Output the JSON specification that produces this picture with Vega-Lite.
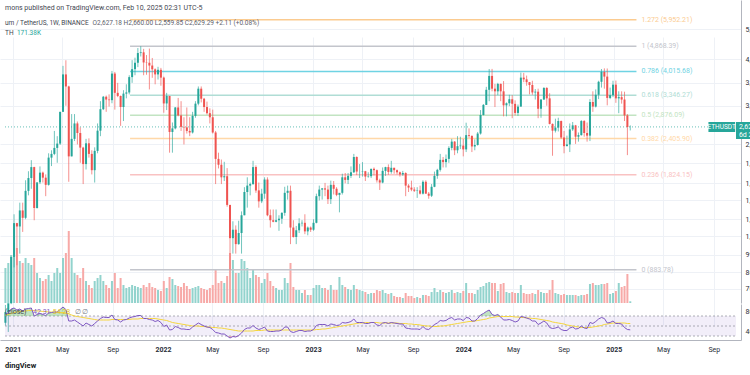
{
  "$schema": "https://vega.github.io/schema/vega-lite/v6.json",
  "width": 741,
  "height": 340,
  "autosize": {"type": "none"},
  "padding": {"left": 0, "top": 0, "right": 9, "bottom": 35},
  "background": "white",
  "config": {"view": {"stroke": null}, "font": "Roboto"},
  "datasets": {
    "fib": [
      {"lv": "1.272", "p": 5952.21, "s": "1.272 (5,952.21)"},
      {"lv": "1", "p": 4868.39, "s": "1 (4,868.39)"},
      {"lv": "0.786", "p": 4015.68, "s": "0.786 (4,015.68)"},
      {"lv": "0.618", "p": 3346.27, "s": "0.618 (3,346.27)"},
      {"lv": "0.5", "p": 2876.09, "s": "0.5 (2,876.09)"},
      {"lv": "0.382", "p": 2405.90, "s": "0.382 (2,405.90)"},
      {"lv": "0.236", "p": 1824.15, "s": "0.236 (1,824.15)"},
      {"lv": "0", "p": 883.78, "s": "0 (883.78)"}
    ]
  },
  "data": {"values": [
    {"t":"2020-12-14","o":590,"h":676,"l":577,"c":640,"v":3500,"r":74,"m":72},
    {"t":"2020-12-21","o":640,"h":665,"l":550,"c":685,"v":4000,"r":76,"m":73},
    {"t":"2020-12-28","o":685,"h":760,"l":680,"c":975,"v":4800,"r":84,"m":75},
    {"t":"2021-01-04","o":975,"h":1350,"l":900,"c":1262,"v":6000,"r":86,"m":77},
    {"t":"2021-01-11","o":1262,"h":1265,"l":915,"c":1230,"v":5500,"r":82,"m":78},
    {"t":"2021-01-18","o":1230,"h":1475,"l":1000,"c":1390,"v":4200,"r":84,"m":79},
    {"t":"2021-01-25","o":1390,"h":1475,"l":1180,"c":1314,"v":4000,"r":80,"m":80},
    {"t":"2021-02-01","o":1314,"h":1750,"l":1300,"c":1614,"v":4500,"r":84,"m":80},
    {"t":"2021-02-08","o":1614,"h":1875,"l":1560,"c":1780,"v":4000,"r":85,"m":81},
    {"t":"2021-02-15","o":1780,"h":2040,"l":1640,"c":1935,"v":3800,"r":86,"m":81},
    {"t":"2021-02-22","o":1935,"h":1940,"l":1290,"c":1416,"v":4500,"r":70,"m":81},
    {"t":"2021-03-01","o":1416,"h":1680,"l":1410,"c":1723,"v":3000,"r":73,"m":80},
    {"t":"2021-03-08","o":1723,"h":1945,"l":1700,"c":1855,"v":2500,"r":75,"m":80},
    {"t":"2021-03-15","o":1855,"h":1870,"l":1720,"c":1785,"v":2200,"r":73,"m":79},
    {"t":"2021-03-22","o":1785,"h":1830,"l":1550,"c":1690,"v":2400,"r":71,"m":79},
    {"t":"2021-03-29","o":1690,"h":2150,"l":1680,"c":2080,"v":2800,"r":76,"m":78},
    {"t":"2021-04-05","o":2080,"h":2200,"l":1950,"c":2140,"v":2200,"r":77,"m":78},
    {"t":"2021-04-12","o":2140,"h":2550,"l":2120,"c":2240,"v":3000,"r":78,"m":78},
    {"t":"2021-04-19","o":2240,"h":2450,"l":2000,"c":2315,"v":3500,"r":78,"m":77},
    {"t":"2021-04-26","o":2315,"h":2950,"l":2290,"c":2950,"v":3000,"r":83,"m":77},
    {"t":"2021-05-03","o":2950,"h":4190,"l":2950,"c":3925,"v":4500,"r":88,"m":77},
    {"t":"2021-05-10","o":3925,"h":4372,"l":3090,"c":3580,"v":5000,"r":83,"m":76},
    {"t":"2021-05-17","o":3580,"h":3600,"l":1730,"c":2100,"v":7200,"r":60,"m":74},
    {"t":"2021-05-24","o":2100,"h":2900,"l":2100,"c":2400,"v":4500,"r":60,"m":72},
    {"t":"2021-05-31","o":2400,"h":2900,"l":2360,"c":2700,"v":3000,"r":62,"m":70},
    {"t":"2021-06-07","o":2700,"h":2740,"l":2300,"c":2510,"v":2800,"r":58,"m":69},
    {"t":"2021-06-14","o":2510,"h":2620,"l":2000,"c":2245,"v":2500,"r":54,"m":68},
    {"t":"2021-06-21","o":2245,"h":2260,"l":1700,"c":1980,"v":3500,"r":50,"m":67},
    {"t":"2021-06-28","o":1980,"h":2400,"l":1900,"c":2320,"v":2200,"r":56,"m":66},
    {"t":"2021-07-05","o":2320,"h":2410,"l":2080,"c":2140,"v":1800,"r":53,"m":65},
    {"t":"2021-07-12","o":2140,"h":2200,"l":1830,"c":1890,"v":1500,"r":50,"m":64},
    {"t":"2021-07-19","o":1890,"h":2250,"l":1720,"c":2190,"v":2200,"r":55,"m":63},
    {"t":"2021-07-26","o":2190,"h":2700,"l":2150,"c":2555,"v":2500,"r":60,"m":62},
    {"t":"2021-08-02","o":2555,"h":3200,"l":2450,"c":3010,"v":2800,"r":65,"m":62},
    {"t":"2021-08-09","o":3010,"h":3330,"l":2990,"c":3310,"v":2200,"r":68,"m":62},
    {"t":"2021-08-16","o":3310,"h":3340,"l":2950,"c":3240,"v":1800,"r":67,"m":62},
    {"t":"2021-08-23","o":3240,"h":3370,"l":3070,"c":3225,"v":1500,"r":67,"m":62},
    {"t":"2021-08-30","o":3225,"h":4030,"l":3150,"c":3950,"v":2200,"r":72,"m":63},
    {"t":"2021-09-06","o":3950,"h":4000,"l":3000,"c":3410,"v":3000,"r":63,"m":63},
    {"t":"2021-09-13","o":3410,"h":3680,"l":3300,"c":3330,"v":1500,"r":62,"m":63},
    {"t":"2021-09-20","o":3330,"h":3340,"l":2650,"c":3060,"v":2500,"r":58,"m":63},
    {"t":"2021-09-27","o":3060,"h":3480,"l":2750,"c":3390,"v":1800,"r":62,"m":63},
    {"t":"2021-10-04","o":3390,"h":3640,"l":3270,"c":3420,"v":1500,"r":63,"m":63},
    {"t":"2021-10-11","o":3420,"h":3900,"l":3370,"c":3845,"v":1600,"r":66,"m":63},
    {"t":"2021-10-18","o":3845,"h":4375,"l":3680,"c":4085,"v":1800,"r":68,"m":64},
    {"t":"2021-10-25","o":4085,"h":4460,"l":3900,"c":4290,"v":1700,"r":69,"m":64},
    {"t":"2021-11-01","o":4290,"h":4800,"l":4150,"c":4620,"v":1600,"r":71,"m":64},
    {"t":"2021-11-08","o":4620,"h":4868,"l":4500,"c":4645,"v":1500,"r":71,"m":65},
    {"t":"2021-11-15","o":4645,"h":4770,"l":3900,"c":4300,"v":1800,"r":65,"m":65},
    {"t":"2021-11-22","o":4300,"h":4550,"l":3915,"c":4290,"v":1600,"r":65,"m":65},
    {"t":"2021-11-29","o":4290,"h":4780,"l":3500,"c":4200,"v":2000,"r":63,"m":65},
    {"t":"2021-12-06","o":4200,"h":4450,"l":3825,"c":4080,"v":1600,"r":62,"m":65},
    {"t":"2021-12-13","o":4080,"h":4110,"l":3640,"c":3925,"v":1500,"r":59,"m":65},
    {"t":"2021-12-20","o":3925,"h":4160,"l":3775,"c":4065,"v":1300,"r":61,"m":64},
    {"t":"2021-12-27","o":4065,"h":4125,"l":3600,"c":3830,"v":1200,"r":57,"m":63},
    {"t":"2022-01-03","o":3830,"h":3860,"l":2930,"c":3145,"v":2200,"r":49,"m":62},
    {"t":"2022-01-10","o":3145,"h":3410,"l":2990,"c":3330,"v":1500,"r":52,"m":61},
    {"t":"2022-01-17","o":3330,"h":3330,"l":2160,"c":2530,"v":2600,"r":42,"m":59},
    {"t":"2022-01-24","o":2530,"h":2720,"l":2160,"c":2600,"v":2400,"r":43,"m":57},
    {"t":"2022-01-31","o":2600,"h":3060,"l":2580,"c":3050,"v":1800,"r":49,"m":56},
    {"t":"2022-02-07","o":3050,"h":3280,"l":2850,"c":2870,"v":1700,"r":47,"m":55},
    {"t":"2022-02-14","o":2870,"h":3200,"l":2550,"c":2630,"v":1600,"r":44,"m":54},
    {"t":"2022-02-21","o":2630,"h":2830,"l":2300,"c":2620,"v":2000,"r":44,"m":53},
    {"t":"2022-02-28","o":2620,"h":3050,"l":2500,"c":2550,"v":1700,"r":43,"m":52},
    {"t":"2022-03-07","o":2550,"h":2830,"l":2450,"c":2520,"v":1400,"r":43,"m":51},
    {"t":"2022-03-14","o":2520,"h":2950,"l":2500,"c":2860,"v":1500,"r":48,"m":50},
    {"t":"2022-03-21","o":2860,"h":3200,"l":2820,"c":3140,"v":1600,"r":52,"m":50},
    {"t":"2022-03-28","o":3140,"h":3580,"l":3100,"c":3520,"v":1700,"r":56,"m":50},
    {"t":"2022-04-04","o":3520,"h":3580,"l":3170,"c":3260,"v":1500,"r":53,"m":49},
    {"t":"2022-04-11","o":3260,"h":3280,"l":2950,"c":3060,"v":1400,"r":50,"m":49},
    {"t":"2022-04-18","o":3060,"h":3190,"l":2890,"c":2920,"v":1300,"r":48,"m":48},
    {"t":"2022-04-25","o":2920,"h":3030,"l":2700,"c":2830,"v":1500,"r":47,"m":48},
    {"t":"2022-05-02","o":2830,"h":3000,"l":2500,"c":2520,"v":1800,"r":43,"m":47},
    {"t":"2022-05-09","o":2520,"h":2550,"l":1700,"c":2060,"v":3400,"r":37,"m":47},
    {"t":"2022-05-16","o":2060,"h":2160,"l":1915,"c":1970,"v":2000,"r":36,"m":46},
    {"t":"2022-05-23","o":1970,"h":2050,"l":1700,"c":1790,"v":2200,"r":34,"m":46},
    {"t":"2022-05-30","o":1790,"h":2015,"l":1740,"c":1805,"v":2000,"r":34,"m":45},
    {"t":"2022-06-06","o":1805,"h":1920,"l":1430,"c":1450,"v":2700,"r":30,"m":44},
    {"t":"2022-06-13","o":1450,"h":1450,"l":880,"c":1125,"v":5000,"r":26,"m":43},
    {"t":"2022-06-20","o":1125,"h":1280,"l":1000,"c":1200,"v":4300,"r":29,"m":42},
    {"t":"2022-06-27","o":1200,"h":1240,"l":1000,"c":1075,"v":3000,"r":28,"m":41},
    {"t":"2022-07-04","o":1075,"h":1285,"l":1070,"c":1170,"v":3000,"r":31,"m":40},
    {"t":"2022-07-11","o":1170,"h":1380,"l":1000,"c":1340,"v":4400,"r":36,"m":40},
    {"t":"2022-07-18","o":1340,"h":1660,"l":1340,"c":1600,"v":4200,"r":43,"m":40},
    {"t":"2022-07-25","o":1600,"h":1790,"l":1420,"c":1680,"v":3500,"r":46,"m":40},
    {"t":"2022-08-01","o":1680,"h":1720,"l":1560,"c":1700,"v":2500,"r":46,"m":40},
    {"t":"2022-08-08","o":1700,"h":2030,"l":1690,"c":1935,"v":3300,"r":51,"m":40},
    {"t":"2022-08-15","o":1935,"h":1960,"l":1590,"c":1620,"v":2800,"r":46,"m":41},
    {"t":"2022-08-22","o":1620,"h":1720,"l":1420,"c":1490,"v":2600,"r":43,"m":41},
    {"t":"2022-08-29","o":1490,"h":1640,"l":1470,"c":1580,"v":2000,"r":45,"m":41},
    {"t":"2022-09-05","o":1580,"h":1790,"l":1520,"c":1760,"v":2400,"r":48,"m":42},
    {"t":"2022-09-12","o":1760,"h":1790,"l":1330,"c":1340,"v":3000,"r":40,"m":42},
    {"t":"2022-09-19","o":1340,"h":1400,"l":1220,"c":1290,"v":2200,"r":39,"m":42},
    {"t":"2022-09-26","o":1290,"h":1400,"l":1270,"c":1275,"v":1700,"r":39,"m":42},
    {"t":"2022-10-03","o":1275,"h":1400,"l":1270,"c":1290,"v":1500,"r":40,"m":42},
    {"t":"2022-10-10","o":1290,"h":1340,"l":1190,"c":1305,"v":1300,"r":40,"m":42},
    {"t":"2022-10-17","o":1305,"h":1370,"l":1255,"c":1365,"v":1300,"r":42,"m":42},
    {"t":"2022-10-24","o":1365,"h":1665,"l":1335,"c":1590,"v":2500,"r":48,"m":42},
    {"t":"2022-10-31","o":1590,"h":1680,"l":1510,"c":1615,"v":2000,"r":48,"m":42},
    {"t":"2022-11-07","o":1615,"h":1680,"l":1075,"c":1220,"v":4000,"r":39,"m":42},
    {"t":"2022-11-14","o":1220,"h":1290,"l":1130,"c":1135,"v":1600,"r":37,"m":42},
    {"t":"2022-11-21","o":1135,"h":1235,"l":1075,"c":1195,"v":1300,"r":39,"m":42},
    {"t":"2022-11-28","o":1195,"h":1310,"l":1170,"c":1260,"v":1300,"r":41,"m":42},
    {"t":"2022-12-05","o":1260,"h":1290,"l":1230,"c":1265,"v":1000,"r":41,"m":42},
    {"t":"2022-12-12","o":1265,"h":1350,"l":1160,"c":1185,"v":1300,"r":39,"m":42},
    {"t":"2022-12-19","o":1185,"h":1230,"l":1150,"c":1220,"v":800,"r":40,"m":42},
    {"t":"2022-12-26","o":1220,"h":1230,"l":1180,"c":1200,"v":800,"r":40,"m":42},
    {"t":"2023-01-02","o":1200,"h":1300,"l":1190,"c":1265,"v":1500,"r":43,"m":42},
    {"t":"2023-01-09","o":1265,"h":1580,"l":1260,"c":1550,"v":1800,"r":51,"m":43},
    {"t":"2023-01-16","o":1550,"h":1680,"l":1500,"c":1630,"v":1800,"r":53,"m":43},
    {"t":"2023-01-23","o":1630,"h":1650,"l":1510,"c":1645,"v":1500,"r":53,"m":44},
    {"t":"2023-01-30","o":1645,"h":1715,"l":1550,"c":1630,"v":1500,"r":53,"m":44},
    {"t":"2023-02-06","o":1630,"h":1680,"l":1460,"c":1515,"v":1300,"r":50,"m":45},
    {"t":"2023-02-13","o":1515,"h":1745,"l":1460,"c":1690,"v":1800,"r":54,"m":46},
    {"t":"2023-02-20","o":1690,"h":1740,"l":1570,"c":1640,"v":1300,"r":53,"m":47},
    {"t":"2023-02-27","o":1640,"h":1660,"l":1550,"c":1565,"v":1300,"r":51,"m":48},
    {"t":"2023-03-06","o":1565,"h":1570,"l":1370,"c":1590,"v":2600,"r":52,"m":49},
    {"t":"2023-03-13","o":1590,"h":1840,"l":1570,"c":1790,"v":1800,"r":57,"m":50},
    {"t":"2023-03-20","o":1790,"h":1850,"l":1710,"c":1755,"v":1600,"r":56,"m":51},
    {"t":"2023-03-27","o":1755,"h":1850,"l":1700,"c":1810,"v":1400,"r":57,"m":52},
    {"t":"2023-04-03","o":1810,"h":1945,"l":1780,"c":1860,"v":1300,"r":59,"m":53},
    {"t":"2023-04-10","o":1860,"h":2140,"l":1850,"c":2090,"v":1800,"r":64,"m":54},
    {"t":"2023-04-17","o":2090,"h":2100,"l":1820,"c":1870,"v":1400,"r":57,"m":55},
    {"t":"2023-04-24","o":1870,"h":1980,"l":1780,"c":1870,"v":1300,"r":57,"m":56},
    {"t":"2023-05-01","o":1870,"h":2010,"l":1800,"c":1875,"v":1200,"r":57,"m":56},
    {"t":"2023-05-08","o":1875,"h":1880,"l":1740,"c":1800,"v":1100,"r":55,"m":57},
    {"t":"2023-05-15","o":1800,"h":1860,"l":1785,"c":1805,"v":900,"r":55,"m":57},
    {"t":"2023-05-22","o":1805,"h":1910,"l":1780,"c":1910,"v":1000,"r":57,"m":57},
    {"t":"2023-05-29","o":1910,"h":1930,"l":1815,"c":1890,"v":1000,"r":57,"m":57},
    {"t":"2023-06-05","o":1890,"h":1900,"l":1720,"c":1750,"v":1300,"r":52,"m":57},
    {"t":"2023-06-12","o":1750,"h":1770,"l":1625,"c":1720,"v":1200,"r":51,"m":56},
    {"t":"2023-06-19","o":1720,"h":1930,"l":1710,"c":1880,"v":1300,"r":56,"m":56},
    {"t":"2023-06-26","o":1880,"h":1940,"l":1810,"c":1935,"v":1000,"r":57,"m":56},
    {"t":"2023-07-03","o":1935,"h":1975,"l":1825,"c":1865,"v":900,"r":55,"m":56},
    {"t":"2023-07-10","o":1865,"h":2030,"l":1840,"c":1925,"v":1000,"r":57,"m":56},
    {"t":"2023-07-17","o":1925,"h":1925,"l":1840,"c":1890,"v":700,"r":56,"m":56},
    {"t":"2023-07-24","o":1890,"h":1900,"l":1830,"c":1860,"v":600,"r":55,"m":56},
    {"t":"2023-07-31","o":1860,"h":1870,"l":1800,"c":1830,"v":600,"r":54,"m":55},
    {"t":"2023-08-07","o":1830,"h":1880,"l":1810,"c":1850,"v":500,"r":54,"m":55},
    {"t":"2023-08-14","o":1850,"h":1860,"l":1550,"c":1680,"v":1000,"r":46,"m":55},
    {"t":"2023-08-21","o":1680,"h":1700,"l":1600,"c":1655,"v":700,"r":45,"m":54},
    {"t":"2023-08-28","o":1655,"h":1745,"l":1610,"c":1630,"v":700,"r":44,"m":54},
    {"t":"2023-09-04","o":1630,"h":1660,"l":1600,"c":1615,"v":500,"r":44,"m":53},
    {"t":"2023-09-11","o":1615,"h":1660,"l":1530,"c":1620,"v":600,"r":44,"m":53},
    {"t":"2023-09-18","o":1620,"h":1680,"l":1570,"c":1580,"v":500,"r":43,"m":52},
    {"t":"2023-09-25","o":1580,"h":1750,"l":1570,"c":1730,"v":800,"r":49,"m":51},
    {"t":"2023-10-02","o":1730,"h":1750,"l":1580,"c":1580,"v":800,"r":44,"m":50},
    {"t":"2023-10-09","o":1580,"h":1600,"l":1520,"c":1555,"v":700,"r":43,"m":50},
    {"t":"2023-10-16","o":1555,"h":1700,"l":1540,"c":1665,"v":1100,"r":48,"m":49},
    {"t":"2023-10-23","o":1665,"h":1870,"l":1660,"c":1810,"v":1500,"r":53,"m":49},
    {"t":"2023-10-30","o":1810,"h":1910,"l":1770,"c":1895,"v":1100,"r":56,"m":49},
    {"t":"2023-11-06","o":1895,"h":2140,"l":1870,"c":2045,"v":1300,"r":61,"m":50},
    {"t":"2023-11-13","o":2045,"h":2090,"l":1930,"c":2010,"v":1100,"r":60,"m":50},
    {"t":"2023-11-20","o":2010,"h":2130,"l":1930,"c":2060,"v":1000,"r":61,"m":51},
    {"t":"2023-11-27","o":2060,"h":2270,"l":2000,"c":2240,"v":1100,"r":65,"m":52},
    {"t":"2023-12-04","o":2240,"h":2400,"l":2200,"c":2350,"v":1300,"r":67,"m":53},
    {"t":"2023-12-11","o":2350,"h":2360,"l":2120,"c":2200,"v":1000,"r":62,"m":54},
    {"t":"2023-12-18","o":2200,"h":2450,"l":2150,"c":2270,"v":1100,"r":64,"m":55},
    {"t":"2023-12-25","o":2270,"h":2440,"l":2220,"c":2280,"v":1000,"r":64,"m":56},
    {"t":"2024-01-01","o":2280,"h":2400,"l":2100,"c":2215,"v":1200,"r":61,"m":57},
    {"t":"2024-01-08","o":2215,"h":2715,"l":2170,"c":2470,"v":2000,"r":67,"m":58},
    {"t":"2024-01-15","o":2470,"h":2600,"l":2420,"c":2455,"v":1000,"r":66,"m":59},
    {"t":"2024-01-22","o":2455,"h":2465,"l":2170,"c":2265,"v":1000,"r":60,"m":59},
    {"t":"2024-01-29","o":2265,"h":2390,"l":2200,"c":2290,"v":900,"r":60,"m":60},
    {"t":"2024-02-05","o":2290,"h":2530,"l":2280,"c":2500,"v":1300,"r":65,"m":61},
    {"t":"2024-02-12","o":2500,"h":2990,"l":2480,"c":2880,"v":1600,"r":72,"m":62},
    {"t":"2024-02-19","o":2880,"h":3130,"l":2870,"c":3110,"v":1700,"r":75,"m":63},
    {"t":"2024-02-26","o":3110,"h":3570,"l":3110,"c":3490,"v":2000,"r":79,"m":64},
    {"t":"2024-03-04","o":3490,"h":4090,"l":3200,"c":3880,"v":2100,"r":82,"m":66},
    {"t":"2024-03-11","o":3880,"h":4093,"l":3450,"c":3520,"v":2000,"r":73,"m":67},
    {"t":"2024-03-18","o":3520,"h":3650,"l":3060,"c":3450,"v":2000,"r":71,"m":68},
    {"t":"2024-03-25","o":3450,"h":3680,"l":3350,"c":3650,"v":1200,"r":73,"m":69},
    {"t":"2024-04-01","o":3650,"h":3660,"l":3200,"c":3450,"v":1900,"r":68,"m":69},
    {"t":"2024-04-08","o":3450,"h":3730,"l":2850,"c":3100,"v":2000,"r":62,"m":69},
    {"t":"2024-04-15","o":3100,"h":3170,"l":2850,"c":3150,"v":1100,"r":62,"m":69},
    {"t":"2024-04-22","o":3150,"h":3360,"l":3080,"c":3250,"v":1000,"r":63,"m":69},
    {"t":"2024-04-29","o":3250,"h":3350,"l":2810,"c":3135,"v":1100,"r":61,"m":69},
    {"t":"2024-05-06","o":3135,"h":3220,"l":2870,"c":2925,"v":1000,"r":58,"m":68},
    {"t":"2024-05-13","o":2925,"h":3120,"l":2860,"c":3070,"v":1000,"r":60,"m":68},
    {"t":"2024-05-20","o":3070,"h":3980,"l":3070,"c":3830,"v":1800,"r":69,"m":67},
    {"t":"2024-05-27","o":3830,"h":3970,"l":3700,"c":3780,"v":1000,"r":68,"m":67},
    {"t":"2024-06-03","o":3780,"h":3890,"l":3600,"c":3700,"v":900,"r":66,"m":66},
    {"t":"2024-06-10","o":3700,"h":3700,"l":3370,"c":3620,"v":900,"r":64,"m":66},
    {"t":"2024-06-17","o":3620,"h":3740,"l":3360,"c":3420,"v":1000,"r":60,"m":65},
    {"t":"2024-06-24","o":3420,"h":3510,"l":3240,"c":3440,"v":900,"r":60,"m":65},
    {"t":"2024-07-01","o":3440,"h":3520,"l":2810,"c":3020,"v":1300,"r":53,"m":64},
    {"t":"2024-07-08","o":3020,"h":3250,"l":2820,"c":3240,"v":1100,"r":56,"m":63},
    {"t":"2024-07-15","o":3240,"h":3560,"l":3230,"c":3540,"v":1000,"r":60,"m":62},
    {"t":"2024-07-22","o":3540,"h":3560,"l":3090,"c":3270,"v":1000,"r":56,"m":61},
    {"t":"2024-07-29","o":3270,"h":3400,"l":2680,"c":2690,"v":1300,"r":47,"m":60},
    {"t":"2024-08-05","o":2690,"h":2700,"l":2110,"c":2555,"v":2300,"r":45,"m":58},
    {"t":"2024-08-12","o":2555,"h":2800,"l":2520,"c":2615,"v":1000,"r":46,"m":57},
    {"t":"2024-08-19","o":2615,"h":2820,"l":2540,"c":2750,"v":900,"r":48,"m":56},
    {"t":"2024-08-26","o":2750,"h":2760,"l":2400,"c":2425,"v":800,"r":43,"m":55},
    {"t":"2024-09-02","o":2425,"h":2550,"l":2150,"c":2270,"v":900,"r":41,"m":54},
    {"t":"2024-09-09","o":2270,"h":2460,"l":2270,"c":2300,"v":800,"r":41,"m":52},
    {"t":"2024-09-16","o":2300,"h":2700,"l":2170,"c":2580,"v":800,"r":46,"m":51},
    {"t":"2024-09-23","o":2580,"h":2730,"l":2550,"c":2660,"v":800,"r":48,"m":50},
    {"t":"2024-09-30","o":2660,"h":2670,"l":2310,"c":2440,"v":800,"r":44,"m":49},
    {"t":"2024-10-07","o":2440,"h":2520,"l":2350,"c":2470,"v":700,"r":45,"m":48},
    {"t":"2024-10-14","o":2470,"h":2770,"l":2460,"c":2750,"v":800,"r":50,"m":47},
    {"t":"2024-10-21","o":2750,"h":2770,"l":2440,"c":2510,"v":800,"r":46,"m":47},
    {"t":"2024-10-28","o":2510,"h":2720,"l":2350,"c":2460,"v":900,"r":45,"m":47},
    {"t":"2024-11-04","o":2460,"h":3250,"l":2360,"c":3180,"v":1900,"r":57,"m":47},
    {"t":"2024-11-11","o":3180,"h":3450,"l":2950,"c":3070,"v":2000,"r":55,"m":48},
    {"t":"2024-11-18","o":3070,"h":3500,"l":3050,"c":3360,"v":1800,"r":59,"m":49},
    {"t":"2024-11-25","o":3360,"h":3740,"l":3250,"c":3710,"v":1800,"r":64,"m":50},
    {"t":"2024-12-02","o":3710,"h":4090,"l":3550,"c":4000,"v":1900,"r":67,"m":51},
    {"t":"2024-12-09","o":4000,"h":4110,"l":3520,"c":3860,"v":1900,"r":65,"m":53},
    {"t":"2024-12-16","o":3860,"h":4107,"l":3100,"c":3280,"v":2000,"r":56,"m":54},
    {"t":"2024-12-23","o":3280,"h":3550,"l":3250,"c":3350,"v":900,"r":57,"m":55},
    {"t":"2024-12-30","o":3350,"h":3740,"l":3300,"c":3630,"v":1000,"r":60,"m":56},
    {"t":"2025-01-06","o":3630,"h":3745,"l":3160,"c":3270,"v":1200,"r":55,"m":56},
    {"t":"2025-01-13","o":3270,"h":3450,"l":2920,"c":3300,"v":2000,"r":55,"m":56},
    {"t":"2025-01-20","o":3300,"h":3450,"l":3140,"c":3240,"v":1600,"r":54,"m":56},
    {"t":"2025-01-27","o":3240,"h":3440,"l":2750,"c":2870,"v":1700,"r":47,"m":56},
    {"t":"2025-02-03","o":2870,"h":2900,"l":2120,"c":2627.18,"v":2900,"r":43,"m":55},
    {"t":"2025-02-10","o":2627.18,"h":2660,"l":2559.85,"c":2629.29,"v":171.38,"r":42.31,"m":55}
  ]},
  "resolve": {"scale": {"y": "independent"}},
  "layer": [
    {
      "mark": {"type": "bar", "size": 2},
      "encoding": {
        "x": {"field": "t", "type": "temporal", "title": null,
          "scale": {"type": "utc", "domain": [{"year": 2020, "month": 12, "date": 13, "utc": true}, {"year": 2025, "month": 10, "date": 25, "utc": true}]},
          "axis": {
            "values": [
              {"year": 2021, "month": 1, "date": 1, "utc": true}, {"year": 2021, "month": 5, "date": 1, "utc": true}, {"year": 2021, "month": 9, "date": 1, "utc": true},
              {"year": 2022, "month": 1, "date": 1, "utc": true}, {"year": 2022, "month": 5, "date": 1, "utc": true}, {"year": 2022, "month": 9, "date": 1, "utc": true},
              {"year": 2023, "month": 1, "date": 1, "utc": true}, {"year": 2023, "month": 5, "date": 1, "utc": true}, {"year": 2023, "month": 9, "date": 1, "utc": true},
              {"year": 2024, "month": 1, "date": 1, "utc": true}, {"year": 2024, "month": 5, "date": 1, "utc": true}, {"year": 2024, "month": 9, "date": 1, "utc": true},
              {"year": 2025, "month": 1, "date": 1, "utc": true}, {"year": 2025, "month": 5, "date": 1, "utc": true}, {"year": 2025, "month": 9, "date": 1, "utc": true}
            ],
            "labelExpr": "utcFormat(datum.value, '%m') == '01' ? utcFormat(datum.value, '%Y') : utcFormat(datum.value, '%b')",
            "labelFontSize": 7,
            "labelColor": "#2a2e39",
            "labelFontWeight": {"condition": {"test": "utcFormat(datum.value, '%m') == '01'", "value": "bold"}, "value": "normal"},
            "labelPadding": 5,
            "labelFlush": false,
            "labelOverlap": false,
            "ticks": false,
            "domain": true,
            "domainColor": "#b2b5be",
            "grid": true,
            "gridColor": "#eef1f6",
            "title": null
          }
        },
        "y": {"field": "v", "type": "quantitative", "axis": null, "scale": {"domain": [0, 28800], "range": [303, 15]}},
        "color": {"condition": {"test": "datum.c >= datum.o", "value": "#92d3cd"}, "value": "#f7a9a7"}
      }
    },
    {
      "data": {"values": [{"p": 2629.29}]},
      "mark": {"type": "rule", "color": "#26a69a", "strokeDash": [1, 2], "strokeWidth": 1, "opacity": 0.7},
      "encoding": {
        "x": {"datum": {"year": 2020, "month": 12, "date": 13, "utc": true}, "type": "temporal"},
        "x2": {"datum": {"year": 2025, "month": 10, "date": 25, "utc": true}},
        "y": {"field": "p", "type": "quantitative", "title": null, "scale": {"type": "log", "domain": [686, 6925], "range": [303, 0]},
          "axis": {"orient": "right", "values": [5550, 4400, 3680, 3090, 2300, 1990, 1710, 1500, 1300, 1140, 990, 866, 764], "format": ",.0f",
            "labelFontSize": 7, "labelColor": "#2a2e39", "labelPadding": 4, "ticks": false, "domain": true, "domainColor": "#b2b5be",
            "grid": true, "gridColor": "#eef1f6", "labelFlush": false, "labelOverlap": false, "title": null}}
      }
    },
    {
      "data": {"name": "fib"},
      "mark": {"type": "rule", "strokeWidth": 1.5},
      "encoding": {
        "x": {"datum": {"year": 2021, "month": 10, "date": 13, "utc": true}, "type": "temporal"},
        "x2": {"datum": {"year": 2025, "month": 2, "date": 25, "utc": true}},
        "y": {"field": "p", "type": "quantitative", "axis": null, "scale": {"type": "log", "domain": [686, 6925], "range": [303, 0]}},
        "color": {"field": "lv", "type": "nominal", "legend": null,
          "scale": {"domain": ["1.272", "1", "0.786", "0.618", "0.5", "0.382", "0.236", "0"],
                    "range": ["#fbcb90", "#c3c5cc", "#6fd3e3", "#b0ddd5", "#c2e4c2", "#ffd8a8", "#f9c2c2", "#c3c5cc"]}}
      }
    },
    {
      "mark": {"type": "rule", "strokeWidth": 1, "opacity": 0.65},
      "encoding": {
        "x": {"field": "t", "type": "temporal"},
        "y": {"field": "l", "type": "quantitative", "axis": null, "scale": {"type": "log", "domain": [686, 6925], "range": [303, 0]}},
        "y2": {"field": "h"},
        "color": {"condition": {"test": "datum.c >= datum.o", "value": "#26a69a"}, "value": "#ef5350"}
      }
    },
    {
      "mark": {"type": "bar", "size": 2},
      "encoding": {
        "x": {"field": "t", "type": "temporal"},
        "y": {"field": "o", "type": "quantitative", "axis": null, "scale": {"type": "log", "domain": [686, 6925], "range": [303, 0]}},
        "y2": {"field": "c"},
        "color": {"condition": {"test": "datum.c >= datum.o", "value": "#26a69a"}, "value": "#ef5350"}
      }
    },
    {
      "data": {"name": "fib"},
      "mark": {"type": "text", "align": "left", "baseline": "middle", "fontSize": 7},
      "encoding": {
        "x": {"datum": {"year": 2025, "month": 3, "date": 9, "utc": true}, "type": "temporal"},
        "y": {"field": "p", "type": "quantitative", "axis": null, "scale": {"type": "log", "domain": [686, 6925], "range": [303, 0]}},
        "text": {"field": "s"},
        "color": {"field": "lv", "type": "nominal", "legend": null,
          "scale": {"domain": ["1.272", "1", "0.786", "0.618", "0.5", "0.382", "0.236", "0"],
                    "range": ["#f7a035", "#787b86", "#22c0d8", "#26a69a", "#66bb6a", "#ffa726", "#ef5350", "#787b86"]}}
      }
    },
    {
      "data": {"values": [{"s": "mons published on TradingView.com, Feb 10, 2025 02:31 UTC-5"}]},
      "mark": {"type": "text", "align": "left", "baseline": "middle", "fontSize": 7, "color": "#434651"},
      "encoding": {
        "x": {"datum": {"year": 2020, "month": 12, "date": 13, "utc": true}, "type": "temporal"},
        "y": {"datum": 6515, "type": "quantitative", "axis": null, "scale": {"type": "log", "domain": [686, 6925], "range": [303, 0]}},
        "text": {"field": "s"}
      }
    },
    {
      "data": {"values": [{"s": "um / TetherUS, 1W, BINANCE"}]},
      "mark": {"type": "text", "align": "left", "baseline": "middle", "fontSize": 6.5, "color": "#434651"},
      "encoding": {
        "x": {"datum": {"year": 2020, "month": 12, "date": 13, "utc": true}, "type": "temporal"},
        "y": {"datum": 5811, "type": "quantitative", "axis": null, "scale": {"type": "log", "domain": [686, 6925], "range": [303, 0]}},
        "text": {"field": "s"}
      }
    },
    {
      "data": {"values": [{"s": "O2,627.18 H2,660.00 L2,559.85 C2,629.29 +2.11 (+0.08%)"}]},
      "mark": {"type": "text", "align": "left", "baseline": "middle", "fontSize": 6.5, "color": "#5d606b"},
      "encoding": {
        "x": {"datum": {"year": 2021, "month": 7, "date": 14, "utc": true}, "type": "temporal"},
        "y": {"datum": 5811, "type": "quantitative", "axis": null, "scale": {"type": "log", "domain": [686, 6925], "range": [303, 0]}},
        "text": {"field": "s"}
      }
    },
    {
      "data": {"values": [{"s": "TH"}]},
      "mark": {"type": "text", "align": "left", "baseline": "middle", "fontSize": 6.5, "color": "#434651"},
      "encoding": {
        "x": {"datum": {"year": 2020, "month": 12, "date": 13, "utc": true}, "type": "temporal"},
        "y": {"datum": 5364, "type": "quantitative", "axis": null, "scale": {"type": "log", "domain": [686, 6925], "range": [303, 0]}},
        "text": {"field": "s"}
      }
    },
    {
      "data": {"values": [{"s": "171.38K"}]},
      "mark": {"type": "text", "align": "left", "baseline": "middle", "fontSize": 6.5, "color": "#26a69a"},
      "encoding": {
        "x": {"datum": {"year": 2021, "month": 1, "date": 11, "utc": true}, "type": "temporal"},
        "y": {"datum": 5364, "type": "quantitative", "axis": null, "scale": {"type": "log", "domain": [686, 6925], "range": [303, 0]}},
        "text": {"field": "s"}
      }
    },
    {
      "data": {"values": [{"a": 2730, "b": 2529}]},
      "mark": {"type": "rect", "color": "#26a69a"},
      "encoding": {
        "x": {"datum": {"year": 2025, "month": 8, "date": 19, "utc": true}, "type": "temporal"},
        "x2": {"datum": {"year": 2025, "month": 10, "date": 23, "utc": true}},
        "y": {"field": "a", "type": "quantitative", "axis": null, "scale": {"type": "log", "domain": [686, 6925], "range": [303, 0]}},
        "y2": {"field": "b"}
      }
    },
    {
      "data": {"values": [{"s": "ETHUSDT", "p": 2629.29}]},
      "mark": {"type": "text", "align": "center", "baseline": "middle", "fontSize": 6.5, "color": "white"},
      "encoding": {
        "x": {"datum": {"year": 2025, "month": 9, "date": 20, "utc": true}, "type": "temporal"},
        "y": {"field": "p", "type": "quantitative", "axis": null, "scale": {"type": "log", "domain": [686, 6925], "range": [303, 0]}},
        "text": {"field": "s"}
      }
    },
    {
      "data": {"values": [{"a": 2730, "b": 2398}]},
      "mark": {"type": "rect", "color": "#26a69a"},
      "encoding": {
        "x": {"datum": {"year": 2025, "month": 10, "date": 25, "utc": true}, "type": "temporal"},
        "x2": {"datum": {"year": 2025, "month": 12, "date": 10, "utc": true}},
        "y": {"field": "a", "type": "quantitative", "axis": null, "scale": {"type": "log", "domain": [686, 6925], "range": [303, 0]}},
        "y2": {"field": "b"}
      }
    },
    {
      "data": {"values": [{"s": "2,629.29", "p": 2628}, {"s": "6d 21h", "p": 2472}]},
      "mark": {"type": "text", "align": "left", "baseline": "middle", "fontSize": 7, "color": "white"},
      "encoding": {
        "x": {"datum": {"year": 2025, "month": 11, "date": 1, "utc": true}, "type": "temporal"},
        "y": {"field": "p", "type": "quantitative", "axis": null, "scale": {"type": "log", "domain": [686, 6925], "range": [303, 0]}},
        "text": {"field": "s"}
      }
    },
    {
      "data": {"values": [{"a": 70, "b": 30}]},
      "mark": {"type": "rect", "color": "#7e57c2", "opacity": 0.1},
      "encoding": {
        "x": {"datum": {"year": 2020, "month": 12, "date": 13, "utc": true}, "type": "temporal"},
        "x2": {"datum": {"year": 2025, "month": 10, "date": 25, "utc": true}},
        "y": {"field": "a", "type": "quantitative", "title": null, "scale": {"domain": [22, 94], "range": [340, 304]},
          "axis": {"orient": "right", "values": [40, 80], "labelFontSize": 7, "labelColor": "#2a2e39", "labelPadding": 4, "ticks": false,
            "grid": false, "domain": true, "domainColor": "#b2b5be", "title": null, "labelFlush": false, "labelOverlap": false}},
        "y2": {"field": "b"}
      }
    },
    {
      "data": {"values": [{"a": 70}, {"a": 50}, {"a": 30}]},
      "mark": {"type": "rule", "color": "#787b86", "strokeDash": [2, 2], "strokeWidth": 1, "opacity": 0.6},
      "encoding": {
        "x": {"datum": {"year": 2020, "month": 12, "date": 13, "utc": true}, "type": "temporal"},
        "x2": {"datum": {"year": 2025, "month": 10, "date": 25, "utc": true}},
        "y": {"field": "a", "type": "quantitative", "axis": null, "scale": {"domain": [22, 94], "range": [340, 304]}}
      }
    },
    {
      "transform": [{"calculate": "max(datum.r, 70)", "as": "rh"}],
      "mark": {"type": "area", "color": "#4caf50", "opacity": 0.35},
      "encoding": {
        "x": {"field": "t", "type": "temporal"},
        "y": {"field": "rh", "type": "quantitative", "axis": null, "scale": {"domain": [22, 94], "range": [340, 304]}},
        "y2": {"datum": 70}
      }
    },
    {
      "transform": [{"calculate": "min(datum.r, 30)", "as": "rl"}],
      "mark": {"type": "area", "color": "#ef5350", "opacity": 0.3},
      "encoding": {
        "x": {"field": "t", "type": "temporal"},
        "y": {"field": "rl", "type": "quantitative", "axis": null, "scale": {"domain": [22, 94], "range": [340, 304]}},
        "y2": {"datum": 30}
      }
    },
    {
      "mark": {"type": "line", "color": "#f5d63d", "strokeWidth": 1},
      "encoding": {
        "x": {"field": "t", "type": "temporal"},
        "y": {"field": "m", "type": "quantitative", "axis": null, "scale": {"domain": [22, 94], "range": [340, 304]}}
      }
    },
    {
      "mark": {"type": "line", "color": "#7e57c2", "strokeWidth": 1},
      "encoding": {
        "x": {"field": "t", "type": "temporal"},
        "y": {"field": "r", "type": "quantitative", "axis": null, "scale": {"domain": [22, 94], "range": [340, 304]}}
      }
    },
    {
      "data": {"values": [{"s": "(close)"}]},
      "mark": {"type": "text", "align": "left", "baseline": "middle", "fontSize": 7, "color": "#434651"},
      "encoding": {
        "x": {"datum": {"year": 2020, "month": 12, "date": 13, "utc": true}, "type": "temporal"},
        "y": {"datum": 78, "type": "quantitative", "axis": null, "scale": {"domain": [22, 94], "range": [340, 304]}},
        "text": {"field": "s"}
      }
    },
    {
      "data": {"values": [{"s": "42.31"}]},
      "mark": {"type": "text", "align": "left", "baseline": "middle", "fontSize": 7, "color": "#7e57c2"},
      "encoding": {
        "x": {"datum": {"year": 2021, "month": 2, "date": 19, "utc": true}, "type": "temporal"},
        "y": {"datum": 78, "type": "quantitative", "axis": null, "scale": {"domain": [22, 94], "range": [340, 304]}},
        "text": {"field": "s"}
      }
    },
    {
      "data": {"values": [{"s": "54.28"}]},
      "mark": {"type": "text", "align": "left", "baseline": "middle", "fontSize": 7, "color": "#e6c229"},
      "encoding": {
        "x": {"datum": {"year": 2021, "month": 4, "date": 8, "utc": true}, "type": "temporal"},
        "y": {"datum": 78, "type": "quantitative", "axis": null, "scale": {"domain": [22, 94], "range": [340, 304]}},
        "text": {"field": "s"}
      }
    },
    {
      "data": {"values": [{"s": "∅  ∅"}]},
      "mark": {"type": "text", "align": "left", "baseline": "middle", "fontSize": 7, "color": "#787b86"},
      "encoding": {
        "x": {"datum": {"year": 2021, "month": 5, "date": 31, "utc": true}, "type": "temporal"},
        "y": {"datum": 78, "type": "quantitative", "axis": null, "scale": {"domain": [22, 94], "range": [340, 304]}},
        "text": {"field": "s"}
      }
    },
    {
      "data": {"values": [{"s": "dingView"}]},
      "mark": {"type": "text", "align": "left", "baseline": "middle", "fontSize": 7.5, "fontWeight": "bold", "color": "#131722"},
      "encoding": {
        "x": {"datum": {"year": 2020, "month": 12, "date": 13, "utc": true}, "type": "temporal"},
        "y": {"datum": -30, "type": "quantitative", "axis": null, "scale": {"domain": [22, 94], "range": [340, 304]}},
        "text": {"field": "s"}
      }
    }
  ]
}
